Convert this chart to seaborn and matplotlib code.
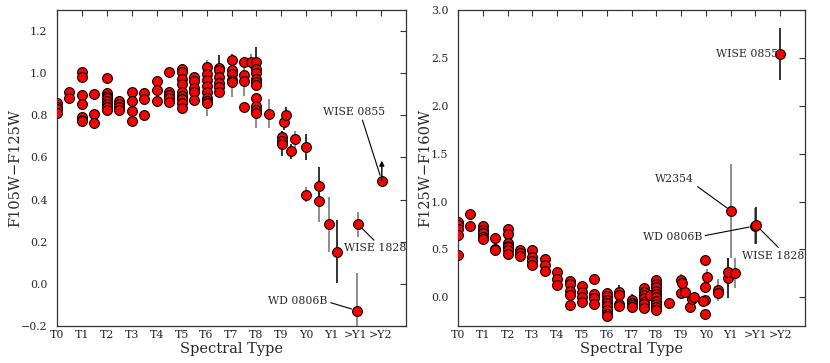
import numpy as np
import pandas as pd
import matplotlib
matplotlib.use("Agg")
import matplotlib.pyplot as plt
import seaborn as sns

# ---------------- data ----------------
tick_labels = ["T0", "T1", "T2", "T3", "T4", "T5", "T6", "T7", "T8", "T9",
               "Y0", "Y1", ">Y1", ">Y2"]

# Left panel: spectral type index, F105W-F125W colour, error, error-bar shade (1 = dark, 0 = light)
left_type = [0, 0, 0, 0,
             0.5, 0.5,
             1, 1, 1, 1, 1, 1, 1,
             1.5, 1.5, 1.5,
             2, 2, 2, 2, 2, 2, 2, 2,
             2.5, 2.5, 2.5, 2.5,
             3, 3, 3, 3,
             3.5, 3.5, 3.5,
             4, 4, 4,
             4.5, 4.5, 4.5, 4.5, 4.5,
             5, 5, 5, 5, 5, 5, 5, 5, 5,
             5.5, 5.5, 5.5, 5.5, 5.5,
             6, 6, 6, 6, 6, 6, 6, 6,
             6.5, 6.5, 6.5, 6.5, 6.5, 6.5,
             7, 7, 7, 7, 7,
             7.5, 7.5, 7.5, 7.5,
             7.77,
             8, 8, 8, 8, 8, 8, 8, 8, 8, 8,
             8.5,
             9.03, 9.03, 9.03,
             9.12, 9.2, 9.4, 9.55, 10.0,
             9.97, 10.5, 10.5, 10.93, 11.24,
             12.07, 12.03, 13.03]
left_color = [0.86, 0.84, 0.83, 0.81,
              0.91, 0.88,
              1.005, 0.98, 0.895, 0.855, 0.79, 0.78, 0.775,
              0.90, 0.805, 0.765,
              0.978, 0.905, 0.893, 0.88, 0.866, 0.852, 0.84, 0.825,
              0.87, 0.852, 0.84, 0.825,
              0.91, 0.866, 0.82, 0.773,
              0.905, 0.877, 0.80,
              0.962, 0.918, 0.87,
              1.008, 0.91, 0.895, 0.88, 0.865,
              1.02, 1.008, 0.972, 0.95, 0.912, 0.893, 0.877, 0.858, 0.835,
              0.98, 0.964, 0.93, 0.912, 0.875,
              1.03, 0.997, 0.968, 0.94, 0.913, 0.882, 0.866, 0.858,
              1.027, 1.016, 0.98, 0.953, 0.934, 0.912,
              1.061, 1.016, 0.997, 0.968, 0.956,
              1.055, 0.99, 0.963, 0.84,
              1.055,
              1.055, 1.019, 1.0, 0.973, 0.956, 0.943, 0.883, 0.842, 0.826, 0.811,
              0.808,
              0.696, 0.677, 0.666,
              0.77, 0.80, 0.629, 0.686, 0.65,
              0.423, 0.464, 0.395, 0.283, 0.152,
              0.283, -0.127, 0.49]
left_err = [0, 0, 0, 0,
            0, 0,
            0, 0, 0, 0, 0, 0, 0,
            0, 0, 0,
            0, 0, 0, 0, 0, 0, 0, 0,
            0, 0, 0, 0,
            0, 0, 0, 0,
            0, 0, 0,
            0, 0, 0,
            0, 0, 0, 0, 0,
            0, 0, 0, 0, 0, 0, 0, 0, 0,
            0, 0, 0, 0, 0,
            0.035, 0, 0, 0, 0, 0, 0, 0.06,
            0.06, 0, 0, 0, 0, 0.02,
            0.03, 0, 0, 0, 0.07,
            0, 0, 0.07, 0,
            0.035,
            0.07, 0, 0, 0, 0, 0, 0, 0, 0, 0.07,
            0.07,
            0.03, 0, 0.06,
            0.04, 0.04, 0.035, 0.04, 0.06,
            0.035, 0.09, 0.10, 0.13, 0.15,
            0.06, 0.18, 0]
left_dark = [0, 0, 0, 0,
             0, 0,
             0, 0, 0, 0, 0, 0, 0,
             0, 0, 0,
             0, 0, 0, 0, 0, 0, 0, 0,
             0, 0, 0, 0,
             0, 0, 0, 0,
             0, 0, 0,
             0, 0, 0,
             0, 0, 0, 0, 0,
             0, 0, 0, 0, 0, 0, 0, 0, 0,
             0, 0, 0, 0, 0,
             0, 0, 0, 0, 0, 0, 0, 0,
             1, 0, 0, 0, 0, 0,
             1, 0, 0, 0, 0,
             0, 0, 0, 0,
             0,
             1, 0, 0, 0, 0, 0, 0, 0, 0, 0,
             0,
             0, 0, 1,
             1, 1, 1, 0, 1,
             0, 1, 0, 0, 1,
             0, 0, 1]

# Right panel: spectral type index, F125W-F160W colour, error, error-bar shade
right_type = [0, 0, 0, 0, 0,
              0.5, 0.5,
              1, 1, 1, 1, 1,
              1.5, 1.5, 1.5,
              2, 2, 2, 2, 2, 2, 2,
              2.5, 2.5, 2.5,
              3, 3, 3, 3,
              3.5, 3.5, 3.5,
              4, 4, 4,
              4.5, 4.5, 4.5, 4.5, 4.5,
              5, 5, 5, 5,
              5.5, 5.5, 5.5, 5.5,
              6, 6, 6, 6, 6, 6, 6, 6,
              6.5, 6.5, 6.5, 6.5,
              7, 7, 7, 7,
              7.5, 7.5, 7.5, 7.5, 7.5, 7.5, 7.5,
              7.75,
              8, 8, 8, 8, 8, 8, 8, 8, 8, 8,
              8.5,
              9.0, 9.0, 9.05, 9.17,
              9.35, 9.46, 9.54,
              9.96, 9.96, 9.96, 9.9, 9.96, 10.06,
              10.47, 10.47,
              10.9, 10.9, 11.19,
              11.03,
              11.97, 12.04,
              13.0]
right_color = [0.79, 0.75, 0.71, 0.65, 0.44,
               0.866, 0.74,
               0.74, 0.70, 0.67, 0.63, 0.61,
               0.615, 0.505, 0.49,
               0.71, 0.66, 0.57, 0.54, 0.52, 0.49, 0.45,
               0.49, 0.46, 0.43,
               0.49, 0.42, 0.38, 0.335,
               0.40, 0.34, 0.27,
               0.26, 0.19, 0.13,
               0.165, 0.14, 0.07, 0.02, -0.085,
               0.115, 0.055, 0.006, -0.05,
               0.195, 0.034, -0.004, -0.067,
               0.04, 0.01, -0.03, -0.06, -0.09, -0.13, -0.17, -0.20,
               0.06, 0.025, -0.075, -0.095,
               -0.028, -0.056, -0.08, -0.098,
               0.097, 0.058, 0.024, -0.01, -0.046, -0.073, -0.113,
               0.024,
               0.177, 0.139, 0.104, 0.069, 0.034, 0.0, -0.035, -0.07, -0.098, -0.137,
               -0.064,
               0.178, 0.045, 0.15, 0.055,
               -0.105, -0.018, 0.0,
               0.385, 0.105, -0.03, -0.035, -0.17, 0.21,
               0.076, 0.04,
               0.198, 0.261, 0.25,
               0.90,
               0.744, 0.75,
               2.54]
right_err = [0, 0, 0, 0, 0,
             0, 0,
             0, 0, 0, 0, 0,
             0, 0, 0,
             0, 0, 0, 0, 0, 0, 0,
             0, 0, 0,
             0, 0, 0, 0,
             0, 0, 0,
             0, 0, 0,
             0, 0, 0, 0, 0,
             0, 0, 0, 0,
             0, 0, 0, 0,
             0, 0, 0, 0, 0, 0, 0, 0.05,
             0.07, 0, 0, 0,
             0.06, 0, 0, 0,
             0.04, 0, 0, 0, 0, 0, 0.05,
             0,
             0.06, 0, 0, 0, 0, 0, 0, 0, 0, 0.06,
             0.06,
             0.06, 0, 0, 0,
             0.05, 0, 0,
             0, 0, 0, 0, 0.03, 0.09,
             0.11, 0,
             0.21, 0.15, 0.155,
             0.49,
             0.19, 0.19,
             0.27]
right_dark = [0, 0, 0, 0, 0,
              0, 0,
              0, 0, 0, 0, 0,
              0, 0, 0,
              0, 0, 0, 0, 0, 0, 0,
              0, 0, 0,
              0, 0, 0, 0,
              0, 0, 0,
              0, 0, 0,
              0, 0, 0, 0, 0,
              0, 0, 0, 0,
              0, 0, 0, 0,
              0, 0, 0, 0, 0, 0, 0, 1,
              1, 0, 0, 0,
              1, 0, 0, 0,
              0, 0, 0, 0, 0, 0, 0,
              0,
              0, 0, 0, 0, 0, 0, 0, 0, 0, 0,
              0,
              0, 0, 0, 0,
              1, 0, 0,
              0, 0, 0, 0, 0, 0,
              0, 0,
              1, 0, 0,
              0,
              0, 1,
              1]

left_df = pd.DataFrame({"type": left_type, "color": left_color,
                        "err": left_err, "dark": left_dark})
right_df = pd.DataFrame({"type": right_type, "color": right_color,
                         "err": right_err, "dark": right_dark})

# ---------------- style ----------------
sns.set_theme(style="white")
plt.rcParams["font.family"] = ["DejaVu Serif"]
plt.rcParams["mathtext.fontset"] = "dejavuserif"

fig = plt.figure(figsize=(8.30, 3.63), dpi=100)
axL = fig.add_axes([57 / 830, 1 - 326 / 363, (406 - 57) / 830, (326 - 10) / 363])
axR = fig.add_axes([458 / 830, 1 - 326 / 363, (805 - 458) / 830, (326 - 10) / 363])

DARK = "#111111"
LIGHT = "#7a7a7a"


def draw(ax, df):
    for flag, col in ((0, LIGHT), (1, DARK)):
        sub = df[(df["err"] > 0) & (df["dark"] == flag)]
        ax.errorbar(sub["type"], sub["color"], yerr=sub["err"], fmt="none",
                    ecolor=col, elinewidth=1.2, capsize=0, zorder=2)
    sns.scatterplot(data=df, x="type", y="color", ax=ax, color="#ff0000",
                    edgecolor="black", linewidth=0.8, s=50, zorder=3,
                    legend=False)
    ax.set_xlim(0, 14)
    ax.set_xticks(range(len(tick_labels)))
    ax.set_xticklabels(tick_labels)
    ax.set_xlabel("Spectral Type", fontsize=10.5, labelpad=1)
    ax.tick_params(direction="in", top=True, right=True, length=4, width=0.8,
                   labelsize=7.9, color="#333333")
    ax.tick_params(axis="x", pad=3)
    ax.tick_params(axis="y", pad=7)
    for sp in ax.spines.values():
        sp.set_linewidth(0.9)
        sp.set_color("#333333")


draw(axL, left_df)
draw(axR, right_df)

axL.set_ylim(-0.2, 1.3)
axL.set_yticks(np.arange(-0.2, 1.21, 0.2))
axL.set_ylabel("F105W\u2212F125W", fontsize=10.5, labelpad=-1)

axR.set_ylim(-0.3, 3.0)
axR.set_yticks(np.arange(0.0, 3.01, 0.5))
axR.set_ylabel("F125W\u2212F160W", fontsize=10.5, labelpad=-1)

line = dict(arrowstyle="-", color="black", lw=0.8, shrinkA=0, shrinkB=4)
fs = 7.8

# left annotations
w0855 = left_df.iloc[-1]
w1828 = left_df.iloc[-3]
wd0806 = left_df.iloc[-2]
axL.annotate("WISE 0855", xy=(w0855["type"], w0855["color"]), xytext=(11.91, 0.817),
             ha="center", va="center", fontsize=fs,
             arrowprops=dict(line, relpos=(0.62, 0.0)))
axL.annotate("", xy=(w0855["type"], w0855["color"] + 0.095),
             xytext=(w0855["type"], w0855["color"]),
             arrowprops=dict(arrowstyle="-|>", color="black", lw=1.0,
                             mutation_scale=7, shrinkA=0, shrinkB=0))
axL.annotate("WISE 1828", xy=(w1828["type"], w1828["color"]), xytext=(12.75, 0.168),
             ha="center", va="center", fontsize=fs,
             arrowprops=dict(line, relpos=(0.54, 1.0)))
axL.annotate("WD 0806B", xy=(wd0806["type"], wd0806["color"]), xytext=(10.85, -0.08),
             ha="right", va="center", fontsize=fs,
             arrowprops=dict(line, relpos=(1.0, 0.4)))

# right annotations
r0855 = right_df.iloc[-1]
r1828 = right_df.iloc[-2]
r0806 = right_df.iloc[-3]
r2354 = right_df.iloc[-4]
axR.annotate("WISE 0855", xy=(r0855["type"], r0855["color"]), xytext=(12.92, 2.543),
             ha="right", va="center", fontsize=fs)
axR.annotate("W2354", xy=(r2354["type"], r2354["color"]), xytext=(8.75, 1.23),
             ha="center", va="center", fontsize=fs,
             arrowprops=dict(line, relpos=(0.97, 0.1)))
axR.annotate("WD 0806B", xy=(r0806["type"], r0806["color"]), xytext=(9.84, 0.633),
             ha="right", va="center", fontsize=fs,
             arrowprops=dict(line, relpos=(1.0, 0.55)))
axR.annotate("WISE 1828", xy=(r1828["type"], r1828["color"]), xytext=(12.73, 0.434),
             ha="center", va="center", fontsize=fs,
             arrowprops=dict(line, relpos=(0.63, 1.0)))

fig.savefig("out.png", dpi=100)
